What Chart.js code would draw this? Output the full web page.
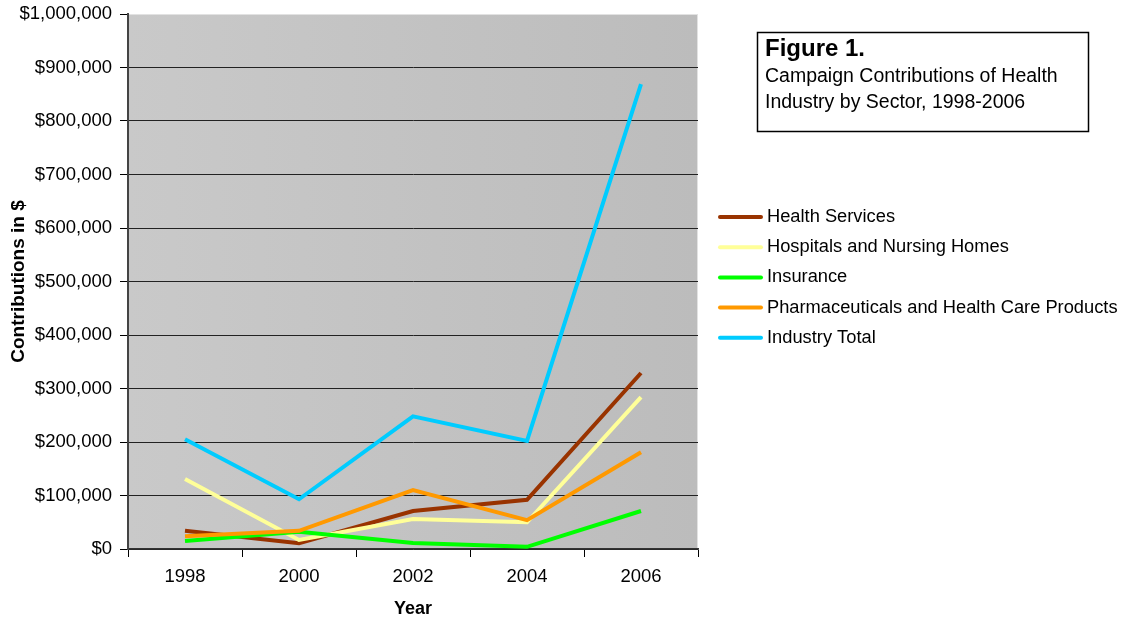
<!DOCTYPE html>
<html>
<head>
<meta charset="utf-8">
<script src="https://cdn.jsdelivr.net/npm/chart.js@4/dist/chart.umd.min.js"></script>
<style>
  html, body { margin: 0; padding: 0; background: #fff; }
  #wrap { width: 1123px; height: 623px; position: relative; }
</style>
</head>
<body>
<div id="wrap"><canvas id="myChart" width="1123" height="623"></canvas></div>
<script>
// Data
const years = ['1998', '2000', '2002', '2004', '2006'];
const healthServices = [34000, 11000, 71000, 92000, 329000];
const hospitals = [131000, 17000, 56000, 50000, 284000];
const insurance = [15000, 32000, 11000, 4000, 71000];
const pharma = [24000, 34000, 110000, 54000, 181000];
const industryTotal = [205000, 93000, 248000, 202000, 869000];

const seriesNames = ['Health Services', 'Hospitals and Nursing Homes', 'Insurance',
  'Pharmaceuticals and Health Care Products', 'Industry Total'];
const seriesColors = ['#993300', '#FFFF99', '#00FF00', '#FF9900', '#00CCFF'];
const seriesValues = [healthServices, hospitals, insurance, pharma, industryTotal];

const titleLines = ['Figure 1.', 'Campaign Contributions of Health', 'Industry by Sector, 1998-2006'];

const FONT = '"Liberation Sans", Arial, sans-serif';
Chart.defaults.font.family = FONT;
Chart.defaults.color = '#000';

const datasets = seriesNames.map((name, i) => ({
  label: name,
  data: seriesValues[i],
  borderColor: seriesColors[i],
  backgroundColor: seriesColors[i],
  borderWidth: 4,
  pointRadius: 0,
  tension: 0,
  order: seriesNames.length - i,
}));

// plot background + frame
const plotBg = {
  id: 'plotBg',
  beforeDraw(chart) {
    const { ctx, chartArea: a } = chart;
    const g = ctx.createLinearGradient(a.left, 0, a.right, 0);
    g.addColorStop(0, '#c9c9c9');
    g.addColorStop(1, '#bcbcbc');
    ctx.save();
    ctx.fillStyle = g;
    ctx.fillRect(a.left, a.top, a.right - a.left, a.bottom - a.top);
    ctx.strokeStyle = '#e2e2e2';
    ctx.lineWidth = 1;
    ctx.strokeRect(a.left + 0.5, a.top + 0.5, a.right - a.left - 1, a.bottom - a.top);
    ctx.restore();
  },
};

// title box and legend on the right
const sidePanel = {
  id: 'sidePanel',
  afterDraw(chart) {
    const ctx = chart.ctx;
    ctx.save();
    ctx.strokeStyle = '#000';
    ctx.lineWidth = 1.5;
    ctx.strokeRect(757.5, 32.5, 331, 99);
    ctx.fillStyle = '#000';
    ctx.textBaseline = 'middle';
    ctx.textAlign = 'left';
    ctx.font = 'bold 24px ' + FONT;
    ctx.fillText(titleLines[0], 765, 49);
    ctx.font = '19.5px ' + FONT;
    ctx.fillText(titleLines[1], 765, 77);
    ctx.fillText(titleLines[2], 765, 103);

    chart.data.datasets.forEach((ds, i) => {
      const y = 217 + i * 30.2;
      ctx.strokeStyle = ds.borderColor;
      ctx.lineWidth = 4;
      ctx.lineCap = 'round';
      ctx.beginPath();
      ctx.moveTo(720, y);
      ctx.lineTo(761, y);
      ctx.stroke();
      ctx.fillStyle = '#000';
      ctx.font = '18.3px ' + FONT;
      ctx.fillText(ds.label, 767, y);
    });
    ctx.restore();
  },
};

const config = {
  type: 'line',
  data: { labels: years, datasets },
  options: {
    responsive: false,
    animation: false,
    layout: { padding: { top: 14, right: 425, left: 0, bottom: 0 } },
    plugins: {
      legend: { display: false },
      tooltip: { enabled: false },
    },
    scales: {
      x: {
        offset: true,
        grid: {
          offset: true,
          drawOnChartArea: false,
          tickLength: 8,
          tickColor: '#000',
        },
        border: { color: '#333', width: 1.5 },
        ticks: { padding: 9, font: { size: 18.5 }, color: '#000' },
        title: {
          display: true,
          text: 'Year',
          font: { size: 18, weight: 'bold' },
          padding: { top: 0, bottom: 3 },
        },
        afterFit: (scale) => {
          scale.height = 74;
          scale.paddingLeft = 0;
          scale.paddingRight = 0;
        },
      },
      y: {
        min: 0,
        max: 1000000,
        ticks: {
          stepSize: 100000,
          padding: 8,
          font: { size: 18.5 },
          color: '#000',
          callback: (v) => '$' + Number(v).toLocaleString('en-US'),
        },
        grid: {
          color: (c) => (c.tick && c.tick.value === 1000000 ? 'rgba(0,0,0,0)' : '#222'),
          tickColor: '#000',
          tickLength: 8,
          lineWidth: 1,
        },
        border: { color: '#444', width: 2 },
        title: {
          display: true,
          text: 'Contributions in $',
          font: { size: 19, weight: 'bold' },
          padding: { top: 7, bottom: 0 },
        },
        afterFit: (scale) => {
          scale.width = 128;
          scale.paddingTop = 0;
          scale.paddingBottom = 0;
        },
      },
    },
  },
  plugins: [plotBg, sidePanel],
};

const myChart = new Chart(document.getElementById('myChart'), config);
</script>
</body>
</html>
